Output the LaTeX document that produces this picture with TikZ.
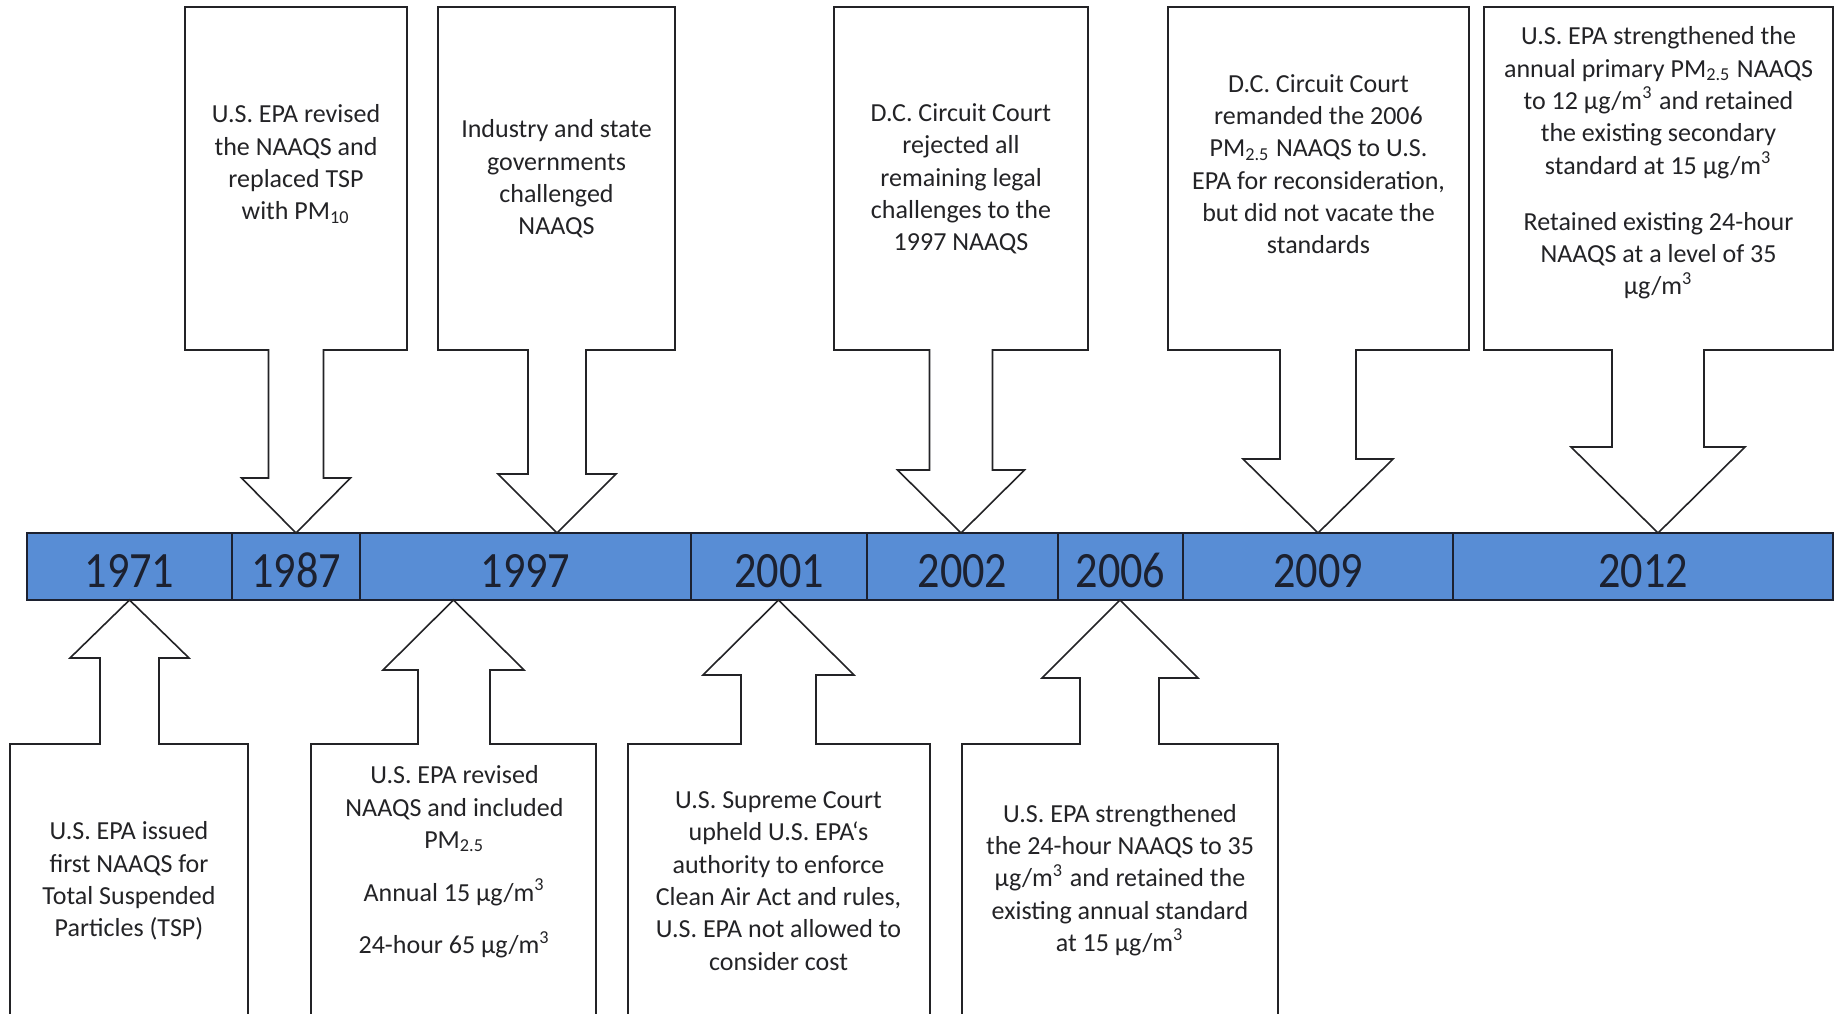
\documentclass[tikz,border=0pt]{standalone}
\usepackage{fontspec}
\setmainfont{Carlito}
\usetikzlibrary{positioning}
\definecolor{barblue}{RGB}{88,141,213}
\definecolor{inkgray}{RGB}{35,35,38}
\definecolor{yearink}{RGB}{28,33,48}
\newcommand{\yr}[1]{\scalebox{1}[1.15]{#1}}
\newcommand{\ugm}{µg/m\textsuperscript{3}}
\tikzset{
  callout/.style={line width=0.016cm, draw=inkgray, fill=white, line join=miter},
  boxtext/.style={align=center, inner sep=0pt, text=inkgray,
    font=\fontsize{7.4}{9.2}\selectfont},
  yearcell/.style={draw=yearink, line width=0.012cm, fill=barblue, inner sep=0pt,
    outer sep=0pt, minimum height=0.67cm, text height=0.41cm, text depth=0cm,
    text=yearink, font=\fontsize{12.6}{14}\selectfont},
}
\begin{document}
\begin{tikzpicture}
                    \useasboundingbox (0,0) rectangle (18.370000,10.130000);
                    {\fontsize{7.4}{9.2}\selectfont

                    % Drawing time bar
                    \node [yearcell, minimum width=2.05cm, anchor=south west] (y1971) at (0.270000,4.130000) {\yr{1971}};%
                    \node [yearcell, minimum width=1.28cm, right=0pt of y1971] (y1987) {\yr{1987}};%
                    \node [yearcell, minimum width=3.31cm, right=0pt of y1987] (y1997) {\yr{1997}};%
                    \node [yearcell, minimum width=1.76cm, right=0pt of y1997] (y2001) {\yr{2001}};%
                    \node [yearcell, minimum width=1.91cm, right=0pt of y2001] (y2002) {\yr{2002}};%
                    \node [yearcell, minimum width=1.25cm, right=0pt of y2002] (y2006) {\yr{2006}};%
                    \node [yearcell, minimum width=2.70cm, right=0pt of y2006] (y2009) {\yr{2009}};%
                    \node [yearcell, minimum width=3.80cm, right=0pt of y2009] (y2012) {\yr{2012}};%
                    \draw [line width=0.028cm, draw=yearink] (y1971.north west) rectangle (y2012.south east);%

                    % Drawing callout 1987 (above)
                    \draw [callout] (1.850000,10.060000) -- (4.070000,10.060000) -- (4.070000,6.630000) -- (3.235000,6.630000) -- (3.235000,5.350000) -- (3.505000,5.350000) -- (2.960000,4.800000) -- (2.415000,5.350000) -- (2.685000,5.350000) -- (2.685000,6.630000) -- (1.850000,6.630000) -- cycle;%
                    \node [boxtext] (t1987) at (2.960000,8.490000) {U.S. EPA revised\\the NAAQS and\\replaced TSP\\with PM\textsubscript{10}};%

                    % Drawing callout 1997 (above)
                    \draw [callout] (4.380000,10.060000) -- (6.750000,10.060000) -- (6.750000,6.630000) -- (5.860000,6.630000) -- (5.860000,5.390000) -- (6.160000,5.390000) -- (5.570000,4.800000) -- (4.980000,5.390000) -- (5.280000,5.390000) -- (5.280000,6.630000) -- (4.380000,6.630000) -- cycle;%
                    \node [boxtext] (t1997a) at (5.565000,8.340000) {Industry and state\\governments\\challenged\\NAAQS};%

                    % Drawing callout 2002 (above)
                    \draw [callout] (8.340000,10.060000) -- (10.880000,10.060000) -- (10.880000,6.630000) -- (9.925000,6.630000) -- (9.925000,5.430000) -- (10.245000,5.430000) -- (9.610000,4.800000) -- (8.975000,5.430000) -- (9.295000,5.430000) -- (9.295000,6.630000) -- (8.340000,6.630000) -- cycle;%
                    \node [boxtext] (t2002) at (9.610000,8.340000) {D.C. Circuit Court\\rejected all\\remaining legal\\challenges to the\\1997 NAAQS};%

                    % Drawing callout 2009 (above)
                    \draw [callout] (11.680000,10.060000) -- (14.690000,10.060000) -- (14.690000,6.630000) -- (13.560000,6.630000) -- (13.560000,5.540000) -- (13.930000,5.540000) -- (13.180000,4.800000) -- (12.430000,5.540000) -- (12.800000,5.540000) -- (12.800000,6.630000) -- (11.680000,6.630000) -- cycle;%
                    \node [boxtext] (t2009) at (13.185000,8.490000) {D.C. Circuit Court\\remanded the 2006\\PM\textsubscript{2.5} NAAQS to U.S.\\EPA for reconsideration,\\but did not vacate the\\standards};%

                    % Drawing callout 2012 (above)
                    \draw [callout] (14.840000,10.060000) -- (18.330000,10.060000) -- (18.330000,6.630000) -- (17.040000,6.630000) -- (17.040000,5.660000) -- (17.450000,5.660000) -- (16.580000,4.800000) -- (15.710000,5.660000) -- (16.120000,5.660000) -- (16.120000,6.630000) -- (14.840000,6.630000) -- cycle;%
                    \node [boxtext] (t2012) at (16.585000,8.500000) {U.S. EPA strengthened the\\annual primary PM\textsubscript{2.5} NAAQS\\to 12 \ugm{} and retained\\the existing secondary\\standard at 15 \ugm\\[6.7pt]Retained existing 24-hour\\NAAQS at a level of 35\\\ugm};%

                    % Drawing callout 1971 (below)
                    \draw [callout] (0.100000,-0.100000) -- (0.100000,2.690000) -- (1.000000,2.690000) -- (1.000000,3.550000) -- (0.700000,3.550000) -- (1.295000,4.130000) -- (1.890000,3.550000) -- (1.590000,3.550000) -- (1.590000,2.690000) -- (2.480000,2.690000) -- (2.480000,-0.100000);%
                    \node [boxtext] (t1971) at (1.290000,1.320000) {U.S. EPA issued\\first NAAQS for\\Total Suspended\\Particles (TSP)};%

                    % Drawing callout 1997 (below)
                    \draw [callout] (3.110000,-0.100000) -- (3.110000,2.690000) -- (4.180000,2.690000) -- (4.180000,3.430000) -- (3.830000,3.430000) -- (4.535000,4.130000) -- (5.240000,3.430000) -- (4.900000,3.430000) -- (4.900000,2.690000) -- (5.960000,2.690000) -- (5.960000,-0.100000);%
                    \node [boxtext] (t1997b) at (4.545000,1.510000) {U.S. EPA revised\\NAAQS and included\\PM\textsubscript{2.5}\\[5.8pt]Annual 15 \ugm\\[5.8pt]24-hour 65 \ugm};%

                    % Drawing callout 2001 (below)
                    \draw [callout] (6.280000,-0.100000) -- (6.280000,2.690000) -- (7.410000,2.690000) -- (7.410000,3.380000) -- (7.030000,3.380000) -- (7.785000,4.130000) -- (8.540000,3.380000) -- (8.160000,3.380000) -- (8.160000,2.690000) -- (9.300000,2.690000) -- (9.300000,-0.100000);%
                    \node [boxtext] (t2001) at (7.785000,1.320000) {U.S. Supreme Court\\upheld U.S. EPA‘s\\authority to enforce\\Clean Air Act and rules,\\U.S. EPA not allowed to\\consider cost};%

                    % Drawing callout 2006 (below)
                    \draw [callout] (9.620000,-0.100000) -- (9.620000,2.690000) -- (10.800000,2.690000) -- (10.800000,3.350000) -- (10.420000,3.350000) -- (11.200000,4.130000) -- (11.980000,3.350000) -- (11.590000,3.350000) -- (11.590000,2.690000) -- (12.780000,2.690000) -- (12.780000,-0.100000);%
                    \node [boxtext] (t2006) at (11.200000,1.330000) {U.S. EPA strengthened\\the 24-hour NAAQS to 35\\\ugm{} and retained the\\existing annual standard\\at 15 \ugm};%
                    }
\end{tikzpicture}
\end{document}
